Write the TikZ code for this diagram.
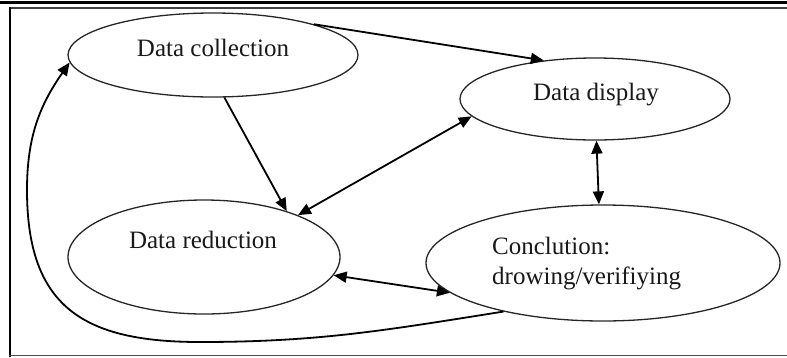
\documentclass[tikz,border=0pt]{standalone}
\usepackage{fontspec}
\setmainfont{Liberation Serif}
\usetikzlibrary{shapes.geometric,arrows.meta}
\begin{document}
\begin{tikzpicture}[x=1pt,y=-1pt,
  ell/.style={ellipse, draw=black!85, line width=1.3pt, inner sep=0pt},
  lbl/.style={font=\fontsize{25}{30}\selectfont, inner sep=0pt, text=black!90},
  arr/.style={line width=1.8pt, -{Triangle[length=13pt,width=11pt]}},
  darr/.style={line width=1.8pt, {Triangle[length=13pt,width=11pt]}-{Triangle[length=13pt,width=11pt]}}]
\useasboundingbox (0,0) rectangle (787,357);
% frame
\draw[line width=3.5pt, black] (0,2.7) -- (787,2.7);
\draw[line width=2pt, black!75] (9,8) -- (787,8);
\draw[line width=2.4pt, black] (10.2,7) -- (10.2,356.5);
\draw[line width=1.5pt, black!70] (9,355.6) -- (787,355.6);
% ellipses
\node[ell, minimum width=290pt, minimum height=84pt] (dc) at (213,55) {};
\node[ell, minimum width=270pt, minimum height=82pt] (dd) at (595,99) {};
\node[ell, minimum width=272pt, minimum height=114pt] (dr) at (204,257) {};
\node[ell, minimum width=354pt, minimum height=116pt] (cc) at (603,263) {};
% labels
\node[lbl, anchor=base] (tdc) at (213,56.5) {Data collection};
\node[lbl, anchor=base] (tdd) at (596,100.5) {Data display};
\node[lbl, anchor=base] (tdr) at (203,248) {Data reduction};
\node[lbl, anchor=base west, align=left] (tcc1) at (492,254) {Conclution:};
\node[lbl, anchor=base west, align=left] (tcc2) at (492,284) {drowing/verifiying};
% loop way points
\coordinate (lpB) at (200,342);
\coordinate (lpL) at (27,190);
% connectors
\draw[arr] (dc.17) -- (dd.143);
\draw[arr] (dc.285) -- (dr.29);
\draw[darr] (dr.24) -- (dd.188);
\draw[darr] (dd.272) -- (cc.94);
\draw[darr] (dr.352) -- (cc.191);
\draw[arr] (cc.206) to[out=189,in=0] (lpB) to[out=180,in=-90,looseness=1.3] (lpL) to[out=90,in=235] (dc.183);
\end{tikzpicture}
\end{document}
